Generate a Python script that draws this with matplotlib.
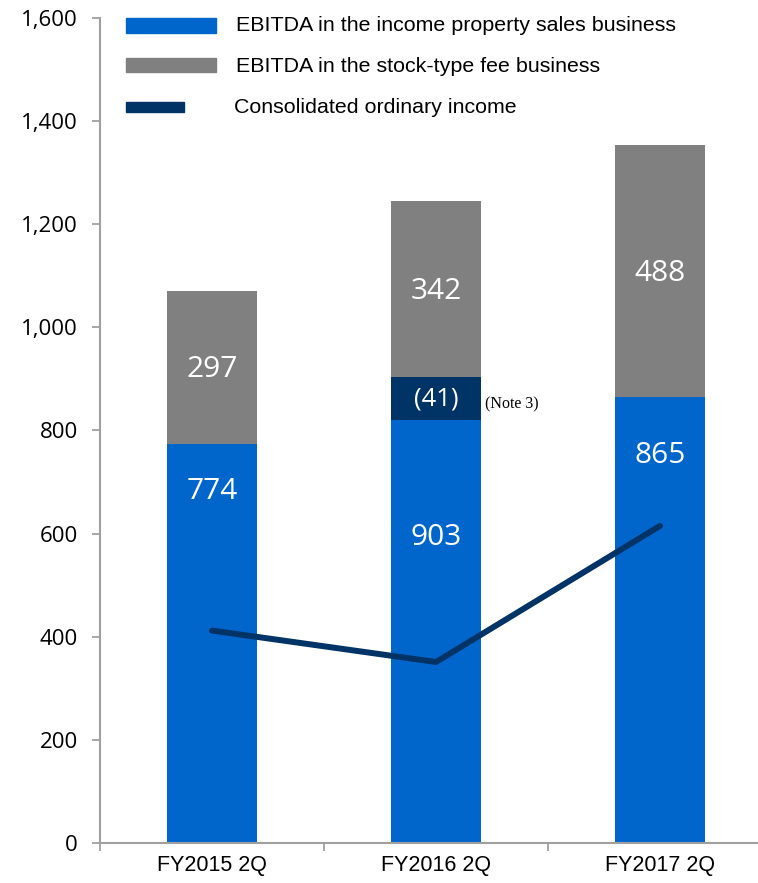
import matplotlib
matplotlib.use("Agg")
import matplotlib.pyplot as plt
from matplotlib.patches import Rectangle

# data
periods = ["FY2015 2Q", "FY2016 2Q", "FY2017 2Q"]
property_sales = [774, 903, 865]
stock_fee = [297, 342, 488]
ordinary_income = [412, 351, 615]
note_adjustment = -41          # shown on FY2016 bar as "(41)"
note_period = 1
legend_labels = ["EBITDA in the income property sales business",
                 "EBITDA in the stock-type fee business",
                 "Consolidated ordinary income"]

BLUE = "#0066CC"
GRAY = "#808080"
NAVY = "#003366"
AXIS = "#A0A0A0"

fig = plt.figure(figsize=(7.58, 8.83), dpi=100)
ax = fig.add_axes([100 / 758, 40 / 883, 658 / 758, 825 / 883])

x = list(range(len(periods)))
ax.bar(x, property_sales, width=0.4, color=BLUE, edgecolor="none", zorder=2)
ax.bar(x, stock_fee, width=0.4, bottom=property_sales, color=GRAY, edgecolor="none", zorder=2)

# adjustment box drawn at the top of the blue segment
box_h = 2 * abs(note_adjustment)
ax.bar(note_period, box_h, width=0.4, bottom=property_sales[note_period] - box_h,
       color=NAVY, edgecolor="none", zorder=3)
ax.text(note_period, property_sales[note_period] - box_h / 2, "(%d)" % abs(note_adjustment),
        color="white", fontsize=18.5, family="Open Sans", ha="center", va="center", zorder=5)
ax.text(note_period + 0.22, property_sales[note_period] - box_h / 2 - 12, "(Note 3)",
        fontsize=11.5, family="Liberation Serif", ha="left", va="center", zorder=5)

ax.plot(x, ordinary_income, color=NAVY, linewidth=4.3, solid_capstyle="round", zorder=4)

# value labels
blue_label_y = [681, 593, 752]
for i in x:
    ax.text(i, blue_label_y[i], str(property_sales[i]), color="white", fontsize=21.5,
            family="Open Sans", ha="center", va="center", zorder=5)
    ax.text(i, property_sales[i] + stock_fee[i] / 2 - 4, str(stock_fee[i]), color="white",
            fontsize=21.5, family="Open Sans", ha="center", va="center", zorder=5)

ax.set_yticks(range(0, 1601, 200))
ax.set_yticklabels(["{:,}".format(v) for v in range(0, 1601, 200)],
                   fontsize=16, family="Open Sans")
ax.set_xticks(x)
ax.set_xticklabels(periods, fontsize=15.5, family="Liberation Sans")
ax.set_xticks([-0.5, 0.5, 1.5, 2.5], minor=True)
ax.set_ylim(0, 1600)
ax.set_xlim(-0.5, -0.5 + 658 / 224)
ax.tick_params(axis="x", which="major", length=0, pad=9)
ax.tick_params(axis="x", which="minor", length=6, width=1.3, color=AXIS)
ax.tick_params(axis="y", length=6, width=1.3, color=AXIS, pad=10)

for s in ["top", "right"]:
    ax.spines[s].set_visible(False)
for s in ["left", "bottom"]:
    ax.spines[s].set_color(AXIS)
    ax.spines[s].set_linewidth(1.5)

# legend drawn by hand to keep the different handle lengths
def px(xp, yp):
    return ((xp - 100) / 658, (843 - yp) / 825)

handles = [(BLUE, 126, 216, 18, 33), (GRAY, 126, 216, 58, 72), (NAVY, 126, 184, 102, 112)]
text_pos = [(236, 26), (236, 67), (234, 108)]
for (c, x0, x1, y0, y1), lab, (tx, ty) in zip(handles, legend_labels, text_pos):
    ax0, ay1 = px(x0, y1)
    ax1_, ay0 = px(x1, y0)
    ax.add_patch(Rectangle((ax0, ay1), ax1_ - ax0, ay0 - ay1, transform=ax.transAxes,
                           color=c, clip_on=False, zorder=6))
    tx_, ty_ = px(tx, ty)
    ax.text(tx_, ty_, lab, transform=ax.transAxes, fontsize=15.4, family="Liberation Sans",
            ha="left", va="center", zorder=6)

fig.savefig("out.png", dpi=100)
